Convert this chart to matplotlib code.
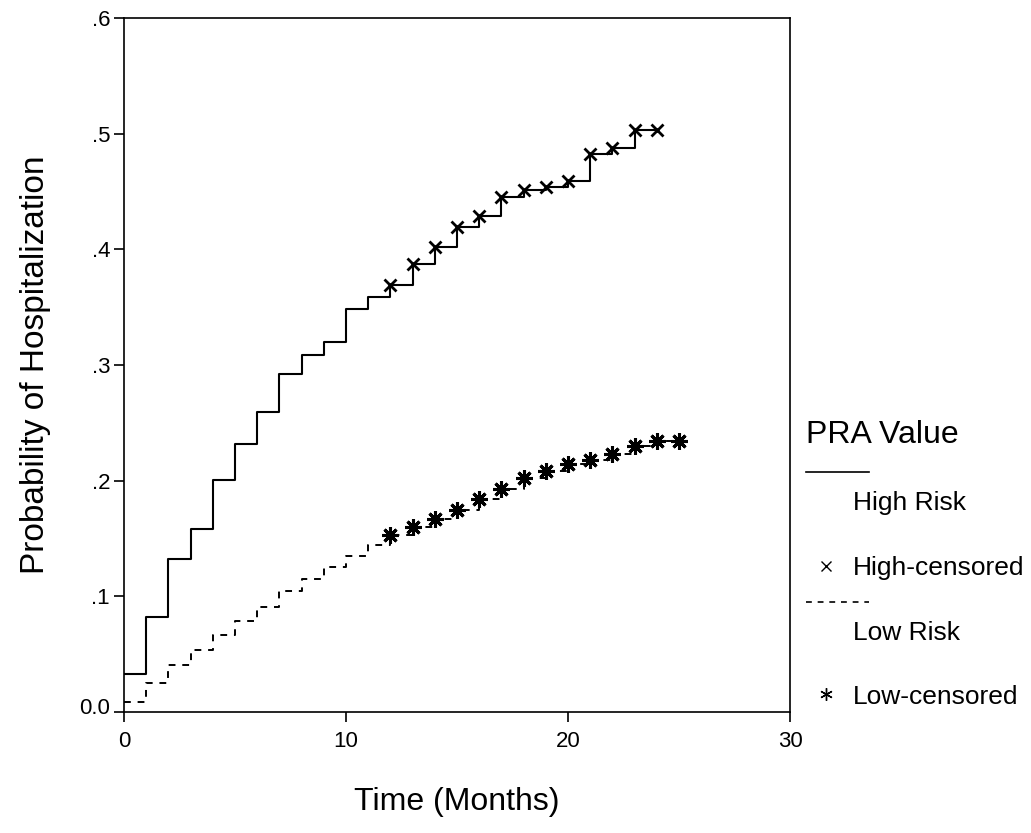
import matplotlib
matplotlib.use('Agg')
import matplotlib.pyplot as plt
import matplotlib.transforms as mtransforms
from matplotlib.lines import Line2D

plt.rcParams['font.family'] = ['Liberation Sans', 'DejaVu Sans']

# Kaplan-Meier style step data (months, cumulative probability)
high_t = list(range(0, 25))
high_p = [0.033, 0.082, 0.132, 0.158, 0.201, 0.232, 0.259, 0.292, 0.309, 0.320,
          0.348, 0.359, 0.369, 0.387, 0.402, 0.419, 0.429, 0.445, 0.451, 0.454,
          0.459, 0.482, 0.488, 0.503, 0.503]
high_cens_t = list(range(12, 25))

low_t = list(range(0, 26))
low_p = [0.009, 0.025, 0.041, 0.054, 0.067, 0.079, 0.091, 0.105, 0.115, 0.125,
         0.135, 0.144, 0.153, 0.160, 0.167, 0.175, 0.184, 0.193, 0.202, 0.208,
         0.214, 0.218, 0.223, 0.230, 0.234, 0.234]
low_cens_t = list(range(12, 26))

x_ticks = [0, 10, 20, 30]
y_ticks = [0.0, 0.1, 0.2, 0.3, 0.4, 0.5, 0.6]
y_tick_labels = ['0.0', '.1', '.2', '.3', '.4', '.5', '.6']

W, H = 1031, 833
fig = plt.figure(figsize=(W / 100, H / 100), dpi=100)
ax = fig.add_axes([124 / W, 1 - 712 / H, (790 - 124) / W, (712 - 18) / H])

ax.step(high_t, high_p, where='post', color='black', lw=1.5)
ax.step(low_t, low_p, where='post', color='black', lw=1.4, linestyle=(0, (3.5, 3.5)))

hc = [high_p[high_t.index(t)] for t in high_cens_t]
lc = [low_p[low_t.index(t)] for t in low_cens_t]
ax.plot(high_cens_t, hc, linestyle='none', marker='x', ms=9, mew=2, color='black')
ax.plot(low_cens_t, lc, linestyle='none', marker=(8, 2, 0), ms=12, mew=2.2, color='black')

ax.set_xlim(0, 30)
ax.set_ylim(0, 0.6)
ax.set_xticks(x_ticks)
ax.set_yticks(y_ticks)
ax.set_yticklabels(y_tick_labels)
ax.tick_params(direction='out', length=7, width=1.2, labelsize=16)
ax.tick_params(axis='x', pad=7)
ax.tick_params(axis='y', pad=3)
for s in ax.spines.values():
    s.set_linewidth(1.2)

# the 0.0 label sits a little above its tick
lab0 = ax.get_yticklabels()[0]
lab0.set_transform(lab0.get_transform() +
                   mtransforms.ScaledTranslation(0, 6 / 100, fig.dpi_scale_trans))

ax.set_xlabel('Time (Months)', fontsize=23, labelpad=25)
ax.set_ylabel('Probability of Hospitalization', fontsize=24, labelpad=20)

# legend drawn by hand, positioned in pixels
def fx(px):
    return px / W

def fy(py):
    return 1 - py / H

fig.text(fx(806), fy(435), 'PRA Value', fontsize=23, va='center', ha='left')
fig.add_artist(Line2D([fx(806), fx(869)], [fy(472), fy(472)], color='black', lw=1.2))
fig.text(fx(853), fy(503), 'High Risk', fontsize=19, va='center', ha='left')
fig.add_artist(Line2D([fx(826)], [fy(566)], marker='x', ms=7, mew=1, color='black'))
fig.text(fx(853), fy(568), 'High-censored', fontsize=19, va='center', ha='left')
fig.add_artist(Line2D([fx(806), fx(869)], [fy(602), fy(602)], color='black', lw=1.2,
                      linestyle=(0, (3.5, 3.5))))
fig.text(fx(853), fy(633), 'Low Risk', fontsize=19, va='center', ha='left')
fig.add_artist(Line2D([fx(826)], [fy(694)], marker=(6, 2, 0), ms=9, mew=1, color='black'))
fig.text(fx(853), fy(697), 'Low-censored', fontsize=19, va='center', ha='left')

fig.savefig('out.png', dpi=100)
plt.close(fig)
